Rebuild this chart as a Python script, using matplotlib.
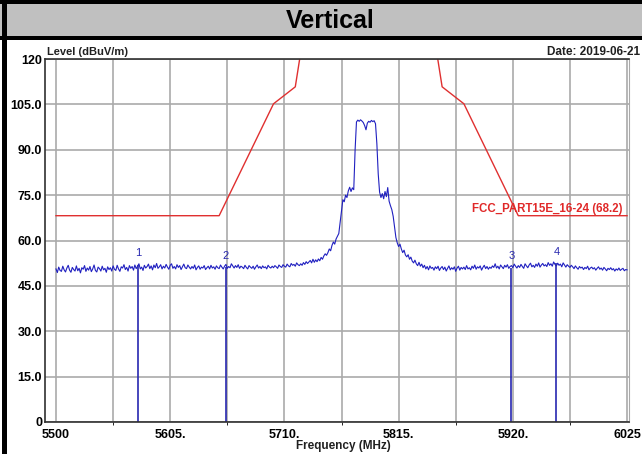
import numpy as np
import matplotlib.pyplot as plt
from matplotlib.patches import Rectangle

plt.rcParams['font.family'] = ['Liberation Sans', 'DejaVu Sans']

# sweep 5500 - 6025 MHz, one reading every 1.25 MHz (20 readings per row = 25 MHz)
freq = np.linspace(5500, 6025, 421)
level = [
    50.6, 49.4, 51.2, 50.1, 49.8, 51.5, 50.3, 49.6, 50.9, 51.8, 50.2, 49.5, 51.1, 50.4, 49.9, 51.6, 50.0, 50.8, 49.3, 51.0,
    50.5, 51.7, 49.8, 50.9, 50.2, 51.4, 49.7, 50.6, 51.9, 50.1, 49.6, 51.2, 50.7, 49.9, 51.5, 50.3, 50.8, 49.5, 51.3, 50.4,
    51.0, 49.9, 51.6, 50.5, 50.1, 51.8, 50.6, 49.8, 51.3, 50.9, 52.0, 50.4, 51.1, 49.9, 51.7, 50.8, 51.4, 50.2, 51.9, 50.7,
    51.5, 52.3, 50.6, 51.2, 50.1, 51.8, 50.9, 51.4, 52.2, 50.7, 51.6, 50.3, 51.9, 51.0, 52.4, 50.8, 51.3, 52.0, 50.6, 51.5,
    50.9, 52.1, 51.2, 50.5, 51.8, 52.3, 50.8, 51.4, 50.6, 52.0, 51.1, 51.7, 50.4, 51.3, 52.2, 51.0, 50.7, 51.9, 51.2, 50.6,
    51.4, 50.8, 51.9, 50.3, 51.1, 51.6, 50.5, 51.2, 50.9, 51.7, 50.4, 51.0, 51.5, 50.6, 51.8, 50.9, 51.3, 50.5, 51.6, 51.0,
    50.7, 51.9, 51.2, 50.6, 51.5, 52.1, 50.8, 51.4, 51.0, 52.3, 51.6, 50.9, 51.7, 51.1, 52.0, 50.8, 51.5, 51.2, 50.7, 51.8,
    51.1, 50.6, 51.7, 51.2, 50.8, 51.5, 50.5, 51.3, 51.9, 50.9, 51.4, 50.7, 51.6, 51.0, 51.3, 50.6, 51.8, 51.2, 50.9, 51.5,
    51.0, 51.7, 51.3, 50.8, 51.9, 51.4, 51.1, 52.0, 51.5, 51.2, 52.2, 51.6, 51.3, 52.4, 51.8, 52.1, 51.5, 52.6, 52.0, 51.7,
    52.3, 51.8, 52.7, 52.1, 53.0, 52.4, 52.9, 53.4, 52.6, 53.8, 52.8, 53.6, 53.0, 53.9, 53.3, 54.4, 53.8, 54.9, 55.6, 55.1,
    56.0, 57.2, 56.6, 58.4, 59.5, 58.8, 60.5, 61.4, 62.3, 66.0, 70.0, 73.5, 72.8, 75.0, 74.2, 76.4, 77.6, 76.2, 77.4, 76.8,
    90.0, 99.2, 99.8, 99.4, 99.9, 99.5, 99.0, 98.0, 96.6, 98.8, 99.4, 99.1, 99.7, 99.3, 99.6, 98.6, 92.0, 82.0, 76.0, 74.2,
    75.5, 73.8, 76.2, 74.5, 77.5, 73.0, 71.5, 70.2, 68.0, 64.5, 61.0, 59.2, 58.0, 58.8, 57.2, 56.0, 56.8, 55.2, 54.6, 55.3,
    53.8, 54.5, 53.2, 52.6, 53.5, 52.3, 51.7, 52.8, 51.5, 52.2, 51.0, 51.8, 50.6, 51.4, 50.3, 51.6, 50.8, 51.1, 50.2, 51.3,
    50.7, 51.5, 50.1, 50.9, 51.4, 50.4, 51.2, 49.9, 50.8, 51.6, 50.3, 51.0, 50.5, 51.3, 49.8, 50.9, 51.5, 50.2, 51.1, 50.6,
    51.2, 50.4, 51.7, 50.6, 51.0, 50.3, 51.5, 50.8, 51.9, 50.5, 51.3, 50.9, 51.6, 50.2, 51.1, 51.8, 50.7, 51.4, 50.5, 51.2,
    50.8, 51.6, 51.1, 52.3, 50.9, 51.5, 50.6, 51.9, 51.3, 50.7, 51.8, 51.2, 52.0, 50.8, 51.4, 51.7, 51.0, 52.2, 51.5, 50.9,
    51.7, 51.1, 52.1, 51.4, 50.8, 52.3, 51.6, 51.0, 51.9, 52.5, 51.3, 51.8, 51.1, 52.2, 51.5, 52.6, 51.2, 51.9, 52.4, 51.6,
    52.0, 51.4, 52.7, 51.8, 52.3, 51.5, 52.9, 52.1, 51.6, 52.5, 51.8, 52.2, 51.3, 52.6, 51.9, 51.2, 52.0, 51.5, 51.1, 51.8,
    51.3, 50.7, 51.6, 51.0, 50.5, 51.4, 50.9, 51.2, 50.4, 51.1, 50.7, 51.5, 50.3, 50.9, 51.2, 50.6, 51.0, 50.2, 50.8, 51.3,
    50.5, 50.9, 50.2, 51.1, 50.6, 50.0, 50.8, 50.4, 51.0, 50.3, 50.7, 49.9, 50.6, 50.2, 50.9, 50.1, 50.5, 50.8, 50.0, 50.4,
    50.3,
]

# FCC part 15E band-edge mask
limit_f = [5500, 5650, 5700, 5720, 5725, 5850, 5855, 5875, 5925, 6025]
limit_v = [68.2, 68.2, 105.2, 110.8, 122.2, 122.2, 110.8, 105.2, 68.2, 68.2]
limit_name = 'FCC_PART15E_16-24 (68.2)'

# markers
mk_f = [5575.7, 5655.9, 5918.7, 5960.0]
mk_v = [52.0, 51.2, 51.0, 52.4]
mk_lab = ['1', '2', '3', '4']

xt = [5500, 5605, 5710, 5815, 5920, 6025]
xt_lab = ['5500', '5605.', '5710.', '5815.', '5920.', '6025']
yt = [0, 15, 30, 45, 60, 75, 90, 105, 120]
yt_lab = ['0', '15.0', '30.0', '45.0', '60.0', '75.0', '90.0', '105.0', '120']

W, H = 642, 454
fig = plt.figure(figsize=(W / 100, H / 100), dpi=100)

# header band
fig.add_artist(Rectangle((0, 1 - 36 / H), 1, 32 / H, transform=fig.transFigure,
                         facecolor='#c0c0c0', edgecolor='none'))
fig.add_artist(Rectangle((0, 1 - 4 / H), 1, 4 / H, transform=fig.transFigure,
                         facecolor='black', edgecolor='none'))
fig.add_artist(Rectangle((0, 1 - 40 / H), 1, 4 / H, transform=fig.transFigure,
                         facecolor='black', edgecolor='none'))
fig.add_artist(Rectangle((2 / W, 0), 5 / W, 1, transform=fig.transFigure,
                         facecolor='black', edgecolor='none'))
fig.text(330 / W, 1 - 21 / H, 'Vertical', ha='center', va='center',
         fontsize=18, fontweight='bold')

ax = fig.add_axes([45 / W, 1 - 422 / H, (629 - 45) / W, (422 - 59) / H])
ax.set_xlim(5489.9, 6026.8)
ax.set_ylim(0, 120)

ax.set_xticks(xt)
ax.set_xticklabels(xt_lab)
ax.set_xticks(np.arange(5552.5, 6025, 105), minor=True)
ax.set_yticks(yt)
ax.set_yticklabels(yt_lab)
ax.tick_params(length=0, labelsize=9, pad=5)
ax.tick_params(axis='y', pad=2)
for t in ax.get_xticklabels() + ax.get_yticklabels():
    t.set_fontweight('bold')
ax.grid(True, which='both', color='#aaaaaa', lw=1.2)
ax.set_axisbelow(True)
for s in ['left', 'top', 'bottom']:
    ax.spines[s].set_color('#303030')
    ax.spines[s].set_linewidth(1.2)
ax.spines['right'].set_color('#aaaaaa')

ax.plot(limit_f, limit_v, color='#e03030', lw=1)
ax.text(6021, 69.5, limit_name, color='#e02828', fontsize=8.3,
        fontweight='bold', ha='right', va='baseline')

ax.plot(freq, level, color='#2020c0', lw=0.8)
ax.vlines(mk_f, 0, mk_v, color='#2828b0', lw=1.2)
for f, v, lab in zip(mk_f, mk_v, mk_lab):
    ax.text(f, v + 3.8, lab, color='#2828b0', fontsize=8, ha='center', va='center')

fig.text(47 / W, 1 - 55 / H, 'Level (dBuV/m)', fontsize=8, fontweight='bold',
         ha='left', va='baseline', color='#202020')
fig.text(640 / W, 1 - 55 / H, 'Date: 2019-06-21', fontsize=8.5, fontweight='bold',
         ha='right', va='baseline', color='#202020')
fig.text(343 / W, 1 - 446 / H, 'Frequency (MHz)', fontsize=8.5, fontweight='bold',
         ha='center', va='center', color='#202020')

fig.savefig('out.png', dpi=100)
